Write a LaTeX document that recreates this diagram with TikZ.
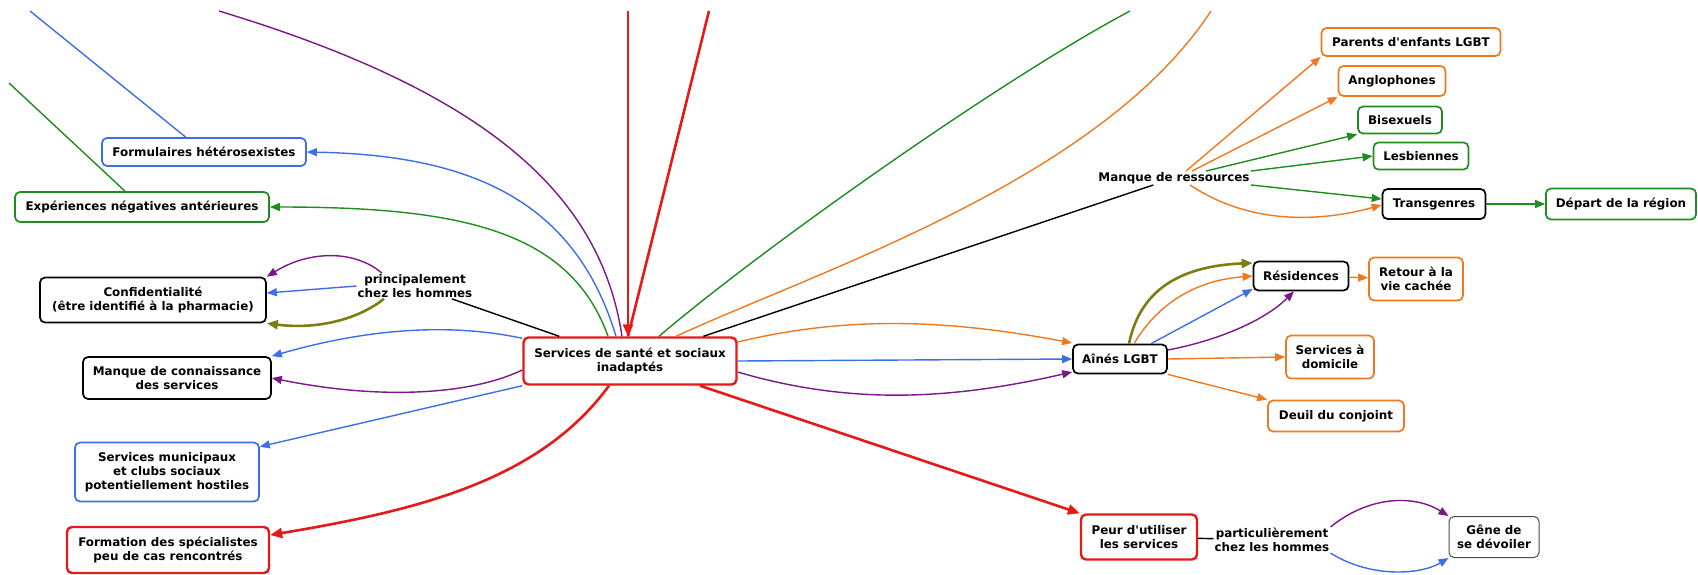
\documentclass[tikz,border=0pt]{standalone}
\usepackage{fontspec}
\setmainfont{DejaVu Sans}
\usetikzlibrary{arrows.meta}
\definecolor{cblue}{HTML}{3C6EE6}
\definecolor{cgreen}{HTML}{1E8C1E}
\definecolor{cpurple}{HTML}{781987}
\definecolor{corange}{HTML}{F0781E}
\definecolor{cred}{HTML}{E61919}
\definecolor{colive}{HTML}{7D7D14}
\begin{document}
\begin{tikzpicture}[x=1pt,y=-1pt,
  box/.style={draw,rounded corners=5pt,fill=white,align=center,line width=1.7pt,inner sep=2pt,
    font=\bfseries\fontsize{11.9}{14}\selectfont},
  redbox/.style={box,draw=cred,line width=2.4pt},
  lab/.style={align=center,inner sep=1pt,font=\bfseries\fontsize{11.9}{14}\selectfont},
  ln/.style={line width=1.4pt},
  arr/.style={ln,-{Triangle[length=10pt,width=8pt]}},
  fat/.style={line width=2.6pt}]
\useasboundingbox (0,0) rectangle (1698,574);

% centre
\node[redbox,minimum width=213,minimum height=47] (serv) at (630,361) {Services de santé et sociaux\\inadaptés};

% left side
\node[box,draw=cblue,minimum width=204,minimum height=28] (form) at (204,152) {Formulaires hétérosexistes};
\node[box,draw=cgreen,minimum width=254,minimum height=30] (exper) at (142,207) {Expériences négatives antérieures};
\node[box,minimum width=226,minimum height=45] (conf) at (153,300) {Confidentialité\\(être identifié à la pharmacie)};
\node[lab] (princ) at (415,286) {principalement\\chez les hommes};
\node[box,minimum width=188,minimum height=42] (connais) at (177,378) {Manque de connaissance\\des services};
\node[box,draw=cblue,minimum width=184,minimum height=59] (munic) at (167,472) {Services municipaux\\et clubs sociaux\\potentiellement hostiles};
\node[redbox,minimum width=202,minimum height=46] (formation) at (168,550) {Formation des spécialistes\\peu de cas rencontrés};

% right side
\node[lab] (ressources) at (1174,178) {Manque de ressources};
\node[box,draw=corange,minimum width=179,minimum height=28] (parents) at (1411,42) {Parents d\textquotesingle enfants LGBT};
\node[box,draw=corange,minimum width=107,minimum height=30] (anglo) at (1392,81) {Anglophones};
\node[box,draw=cgreen,minimum width=84,minimum height=27] (bisex) at (1400,120) {Bisexuels};
\node[box,draw=cgreen,minimum width=95,minimum height=27] (lesb) at (1421,156) {Lesbiennes};
\node[box,minimum width=103,minimum height=30] (trans) at (1434,204) {Transgenres};
\node[box,draw=cgreen,minimum width=150,minimum height=31] (depart) at (1621,204) {Départ de la région};
\node[box,minimum width=94,minimum height=29] (aines) at (1120,359) {Aînés LGBT};
\node[box,minimum width=95,minimum height=29] (resid) at (1301,276) {Résidences};
\node[box,draw=corange,minimum width=94,minimum height=43] (retour) at (1416,279) {Retour à la\\vie cachée};
\node[box,draw=corange,minimum width=88,minimum height=43] (domic) at (1330,357) {Services à\\domicile};
\node[box,draw=corange,minimum width=136,minimum height=31] (deuil) at (1336,416) {Deuil du conjoint};
\node[redbox,minimum width=116,minimum height=45] (peur) at (1139,537) {Peur d\textquotesingle utiliser\\les services};
\node[lab] (partic) at (1272,540) {particulièrement\\chez les hommes};
\node[box,draw=black!70,line width=1pt,minimum width=90,minimum height=41] (gene) at (1494,537) {Gêne de\\se dévoiler};

% free ends at the top
\coordinate (tB) at (30,11);
\coordinate (tG) at (9,83);
\coordinate (tP) at (219,11);
\coordinate (tR1) at (628,11);
\coordinate (tR2) at (709,11);
\coordinate (tGr) at (1130,11);
\coordinate (tO) at (1211,11);

\draw[cblue,ln] (tB) -- (form);
\draw[cgreen,ln] (tG) -- (exper);
\draw[cpurple,ln] (tP) .. controls (480,90) and (600,190) .. ([xshift=-8pt]serv.north);
\draw[cred,fat] (tR2) -- ([xshift=-2pt]serv.north);
\draw[cred,fat,-{Triangle[length=12pt,width=10pt]}] (tR1) -- ([xshift=-2pt]serv.north);
\draw[cgreen,ln] (tGr) .. controls (1000,80) and (760,250) .. ([xshift=29pt]serv.north);
\draw[corange,ln] (tO) .. controls (1100,180) and (820,270) .. ([xshift=46pt]serv.north);
\draw[ln] (ressources) -- (serv);

% to the left
\draw[cblue,arr] ([xshift=-14pt]serv.north) .. controls (575,200) and (470,155) .. (form.east);
\draw[cgreen,arr] ([xshift=-22pt]serv.north) .. controls (570,230) and (460,207) .. (exper.east);
\draw[ln] (princ) -- (serv);
\draw[cpurple,arr] ([xshift=-33pt]princ.north) .. controls (355,250) and (310,250) .. (conf.north east);
\draw[cblue,arr] (princ.west) -- ([yshift=7pt]conf.east);
\draw[colive,fat,-{Triangle[length=11pt,width=9pt]}] ([xshift=-31pt]princ.south) .. controls (360,318) and (320,330) .. (conf.south east);
\draw[cblue,arr] ([yshift=-2pt]serv.north west) .. controls (460,325) and (380,325) .. (connais.north east);
\draw[cpurple,arr] ([yshift=-9pt]serv.west) .. controls (470,395) and (380,400) .. (connais.east);
\draw[cblue,arr] (serv.south west) -- ([yshift=-5pt]munic.north east);
\draw[cred,fat,-{Triangle[length=12pt,width=10pt]}] ([xshift=-21pt]serv.south) .. controls (540,480) and (420,510) .. ([yshift=15pt]formation.east);

% to the right
\draw[corange,arr] ([yshift=19pt]serv.east) .. controls (850,315) and (950,320) .. ([yshift=16pt]aines.west);
\draw[cblue,arr] (serv.east) -- (aines.west);
\draw[cpurple,arr] ([yshift=-11pt]serv.east) .. controls (850,405) and (950,400) .. ([yshift=-13pt]aines.west);
\draw[cred,fat,-{Triangle[length=12pt,width=10pt]}] ([xshift=70pt]serv.south) -- (peur.north west);

% manque de ressources
\draw[corange,arr] ([xshift=12pt]ressources.north) -- (parents.south west);
\draw[corange,arr] ([xshift=18pt]ressources.north) -- (anglo.south west);
\draw[cgreen,arr] ([xshift=32pt]ressources.north) -- (bisex.south west);
\draw[cgreen,arr] (ressources.north east) -- (lesb.west);
\draw[cgreen,arr] (ressources.south east) -- ([yshift=5pt]trans.west);
\draw[corange,arr] ([xshift=16pt]ressources.south) .. controls (1250,225) and (1320,222) .. ([yshift=-1pt]trans.west);
\draw[cgreen,arr] (trans) -- (depart);

% aines
\draw[colive,fat,-{Triangle[length=11pt,width=9pt]}] ([xshift=9pt]aines.north) .. controls (1140,290) and (1180,266) .. ([yshift=13pt]resid.west);
\draw[corange,arr] ([xshift=14pt]aines.north) .. controls (1160,300) and (1200,280) .. (resid.west);
\draw[cblue,arr] ([xshift=31pt]aines.north) -- ([yshift=-13pt]resid.west);
\draw[cpurple,arr] ([yshift=9pt]aines.east) .. controls (1220,340) and (1265,320) .. ([xshift=-7pt]resid.south);
\draw[corange,arr] (resid) -- (retour);
\draw[corange,arr] (aines.east) -- (domic.west);
\draw[corange,arr] (aines.south east) -- (deuil.north west);

% peur
\draw[ln] (peur) -- (partic);
\draw[cpurple,arr] (partic.north east) .. controls (1370,495) and (1415,495) .. (gene.north west);
\draw[cblue,arr] (partic.south east) .. controls (1370,578) and (1420,575) .. (gene.south west);
\end{tikzpicture}
\end{document}
